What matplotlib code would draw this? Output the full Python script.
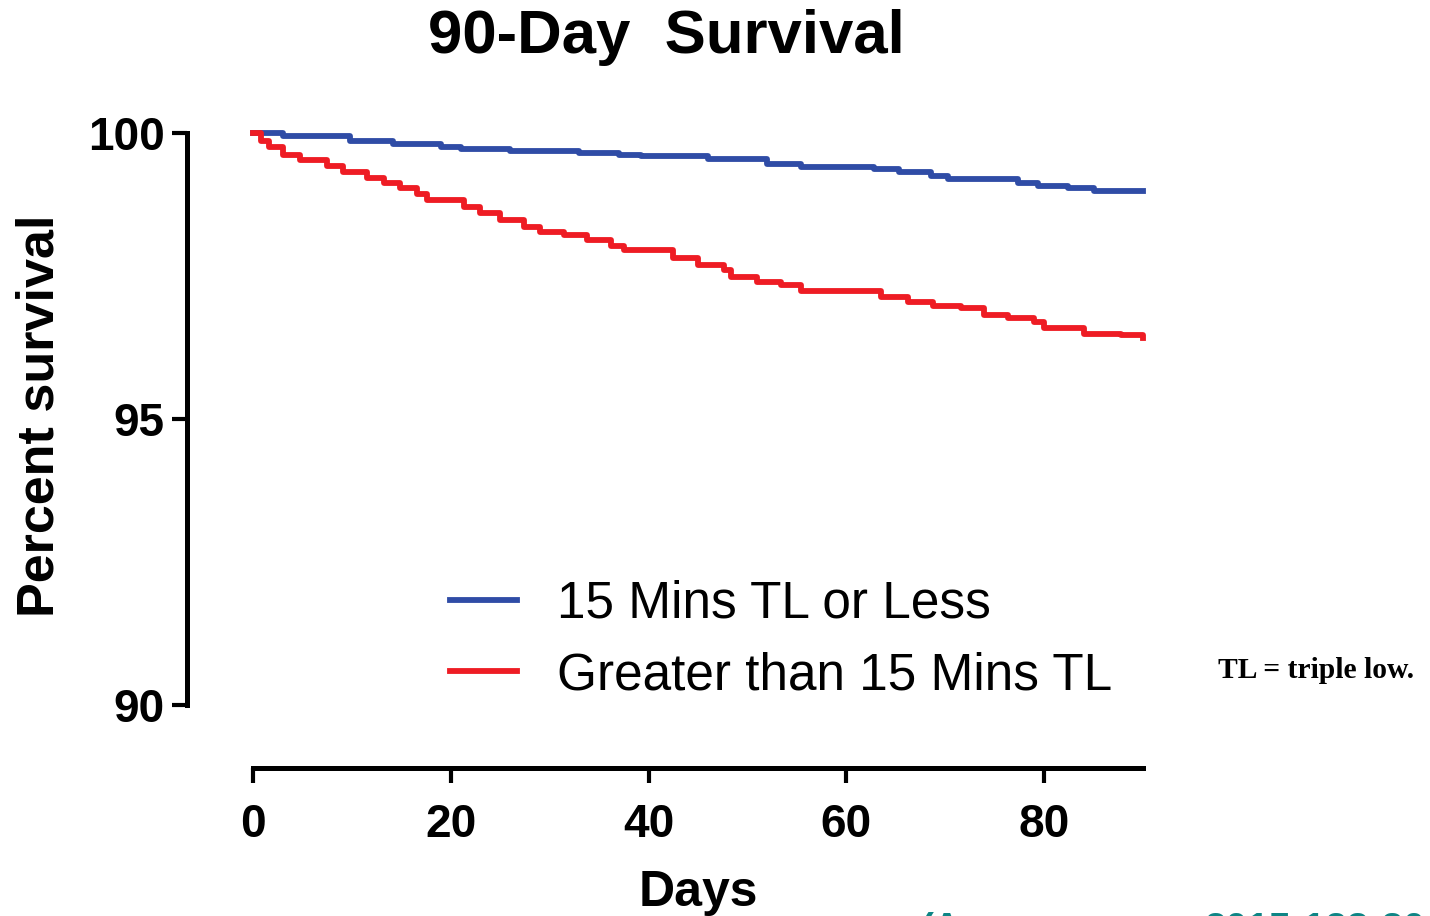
import matplotlib
matplotlib.use("Agg")
import matplotlib.pyplot as plt
from matplotlib.lines import Line2D

# ---- data ----
days_low = [0, 3, 9.8, 14.2, 19, 21, 26, 33, 37, 39.2, 46, 52, 55.4, 62.8, 65.3,
            68.6, 70.3, 77.4, 79.4, 82.4, 85, 90]
surv_low = [100, 99.94, 99.86, 99.81, 99.75, 99.72, 99.68, 99.65, 99.62, 99.6, 99.54,
            99.46, 99.41, 99.37, 99.32, 99.25, 99.19, 99.12, 99.07, 99.03, 98.99, 98.98]

days_high = [0, 0.8, 1.6, 3, 4.8, 7.5, 9.1, 11.5, 13.2, 14.9, 16.6, 17.6, 21.3, 23, 25,
             27.4, 29, 31.4, 33.8, 36.2, 37.5, 42.5, 45, 47.6, 48.3, 51, 53.4, 55.4,
             62.2, 63.5, 66.2, 68.8, 71.6, 73.9, 76.3, 79, 80, 84, 87.8, 90]
surv_high = [100, 99.86, 99.75, 99.62, 99.53, 99.42, 99.31, 99.21, 99.13, 99.04, 98.93,
             98.83, 98.71, 98.61, 98.48, 98.36, 98.27, 98.22, 98.13, 98.02, 97.95, 97.81,
             97.69, 97.6, 97.49, 97.4, 97.34, 97.24, 97.23, 97.14, 97.05, 96.97, 96.94,
             96.82, 96.76, 96.7, 96.59, 96.49, 96.47, 96.42]

series_labels = ["15 Mins TL or Less", "Greater than 15 Mins TL"]
x_ticks = [0, 20, 40, 60, 80]
y_ticks = [90, 95, 100]

BLUE = "#2F4CA6"
RED = "#EE1C24"
TEAL = "#0E8585"

W, H = 1430, 916
fig = plt.figure(figsize=(W / 100, H / 100), dpi=100)
plt.rcParams['font.family'] = ['Liberation Sans', 'DejaVu Sans']

ax = fig.add_axes([253 / W, 1 - 705 / H, 890 / W, 572 / H])
ax.step(days_low, surv_low, where='post', color=BLUE, lw=4.2,
        label=series_labels[0], clip_on=False)
ax.step(days_high, surv_high, where='post', color=RED, lw=4.2,
        label=series_labels[1], clip_on=False)

ax.set_xlim(0, 90)
ax.set_ylim(90, 100)
ax.set_xticks(x_ticks)
ax.set_yticks(y_ticks)

for s in ['top', 'right']:
    ax.spines[s].set_visible(False)
ax.spines['left'].set_position(('outward', 47.5))
ax.spines['bottom'].set_position(('outward', 45.4))
ax.spines['left'].set_bounds(90, 100)
ax.spines['bottom'].set_bounds(0, 90)
for s in ['left', 'bottom']:
    ax.spines[s].set_linewidth(3.6)
    ax.spines[s].set_capstyle('projecting')

ax.tick_params(axis='both', length=11, width=3, color='black')
ax.tick_params(axis='y', pad=5, labelsize=33)
ax.tick_params(axis='x', pad=14, labelsize=33)
for lab in ax.get_xticklabels() + ax.get_yticklabels():
    lab.set_fontweight('bold')

handles = [Line2D([], [], color=BLUE, lw=4.2), Line2D([], [], color=RED, lw=4.2)]
leg = fig.legend(handles, series_labels, loc='upper left',
                 bbox_to_anchor=(450 / W, 1 - 580 / H), frameon=False,
                 prop={'size': 37}, handlelength=1.3, handletextpad=0.78,
                 labelspacing=0.43, borderpad=0, borderaxespad=0)

fig.text(666 / W, 1 - 37 / H, "90-Day  Survival", ha='center', va='center',
         fontsize=44.5, fontweight='bold')
fig.text(40 / W, 1 - 416 / H, "Percent survival", rotation=90, ha='center',
         va='center', fontsize=37.5, fontweight='bold')
fig.text(698 / W, 1 - 906 / H, "Days", ha='center', va='baseline',
         fontsize=36, fontweight='bold')
fig.text(1218 / W, 1 - 670 / H, "TL = triple low.", ha='left', va='center',
         fontsize=21.3, fontweight='bold', family=['Liberation Serif', 'DejaVu Serif'])

# citation fragments cut off by the bottom edge of the image (as in the reference)
fig.text(920 / W, 1 - 940 / H, "(A", ha='left', va='baseline', fontsize=28,
         fontweight='bold', color=TEAL)
fig.text(1205 / W, 1 - 940 / H, "2015;123:30", ha='left', va='baseline', fontsize=28,
         fontweight='bold', color=TEAL)

fig.savefig("out.png", dpi=100)
